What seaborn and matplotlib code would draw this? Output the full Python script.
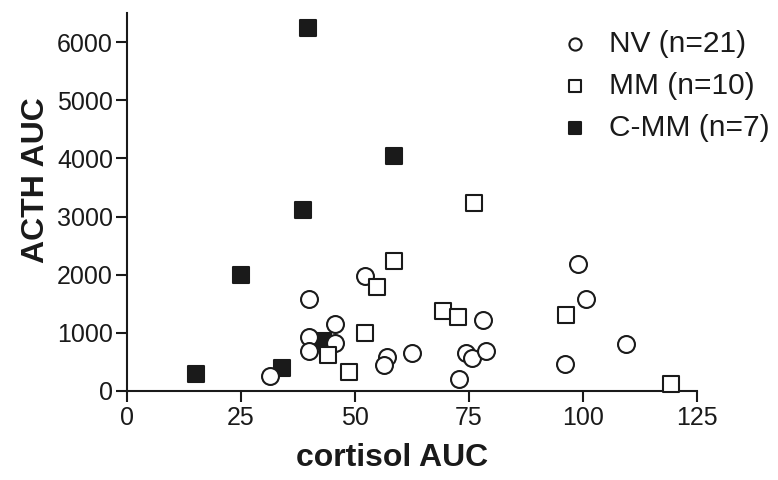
import matplotlib
matplotlib.use("Agg")
import matplotlib.pyplot as plt
import seaborn as sns
import pandas as pd

# NV (open circles)
nv_x = [31.4, 40, 40, 40, 45.6, 45.6, 52.3, 57, 56.4, 62.5, 78, 74.3, 75.7, 78.7, 72.7, 99, 100.7, 109.4, 96]
nv_y = [260, 1580, 920, 690, 1160, 830, 1980, 590, 450, 660, 1220, 660, 560, 690, 200, 2180, 1575, 800, 470]
# MM (open squares)
mm_x = [44, 48.7, 52.3, 54.8, 58.6, 69.4, 72.6, 76.1, 96.2, 119.2]
mm_y = [620, 330, 1000, 1790, 2240, 1375, 1265, 3240, 1305, 115]
# C-MM (filled squares)
cmm_x = [39.8, 58.6, 38.7, 24.9, 15.1, 34.1, 43.0]
cmm_y = [6235, 4038, 3110, 2000, 292, 392, 868]

labels = ["NV (n=21)", "MM (n=10)", "C-MM (n=7)"]
xticks = [0, 25, 50, 75, 100, 125]
yticks = [0, 1000, 2000, 3000, 4000, 5000, 6000]

sns.set_style("ticks")
plt.rcParams['font.family'] = ['Liberation Sans', 'DejaVu Sans']

W, H = 778, 480
fig = plt.figure(figsize=(W/100, H/100), dpi=100)
ax = fig.add_axes([127/W, 1-391/H, (697-127)/W, (391-13)/H])

df_nv = pd.DataFrame({"x": nv_x, "y": nv_y})
df_mm = pd.DataFrame({"x": mm_x, "y": mm_y})
df_cmm = pd.DataFrame({"x": cmm_x, "y": cmm_y})

ink = "#1a1a1a"
ms = 135
lw = 1.5
sns.scatterplot(data=df_cmm, x="x", y="y", marker="s", s=ms, color=ink,
                edgecolor=ink, linewidth=lw, ax=ax, label=labels[2], zorder=3, clip_on=False)
sns.scatterplot(data=df_nv, x="x", y="y", marker="o", s=ms*1.1, facecolor="white",
                edgecolor=ink, linewidth=lw, ax=ax, label=labels[0], zorder=4, clip_on=False)
sns.scatterplot(data=df_mm, x="x", y="y", marker="s", s=ms, facecolor="white",
                edgecolor=ink, linewidth=lw, ax=ax, label=labels[1], zorder=5, clip_on=False)

ax.set_xlim(0, 125)
ax.set_ylim(0, 6500)
ax.set_xticks(xticks)
ax.set_yticks(yticks)
ax.set_xticklabels([str(t) for t in xticks])
ax.set_yticklabels([str(t) for t in yticks])
ax.tick_params(axis="both", labelsize=18, length=8, width=1.5, color=ink, labelcolor=ink, pad=2)
ax.tick_params(axis="x", pad=3)
for side in ["top", "right"]:
    ax.spines[side].set_visible(False)
for side in ["left", "bottom"]:
    ax.spines[side].set_linewidth(1.5)
    ax.spines[side].set_color(ink)

ax.set_xlabel("cortisol AUC", fontsize=23, fontweight="bold", color=ink)
ax.set_ylabel("ACTH AUC", fontsize=23, fontweight="bold", color=ink)
ax.xaxis.set_label_coords((392-127)/570, -(443-391)/378)
ax.yaxis.set_label_coords(-(127-51)/570, (391-180)/378)

handles, labs = ax.get_legend_handles_labels()
order = [labs.index(l) for l in labels]
leg = ax.legend([handles[i] for i in order], [labs[i] for i in order],
                loc="upper left", bbox_to_anchor=(560/W, 1-30/H), bbox_transform=fig.transFigure,
                frameon=False, fontsize=21.5, markerscale=0.72, labelspacing=0.47,
                handlelength=1.0, handletextpad=0.65, borderaxespad=0, borderpad=0)
for t in leg.get_texts():
    t.set_color(ink)

fig.savefig("out.png", dpi=100)
